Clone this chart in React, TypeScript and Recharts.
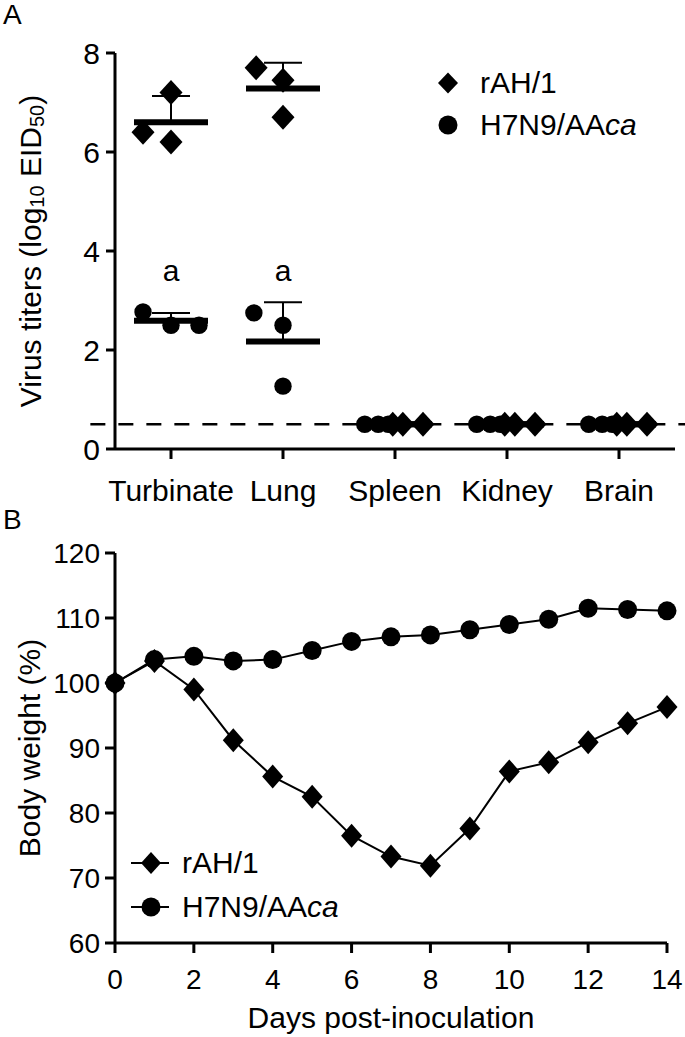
import React from 'react';
import {
  ScatterChart,
  Scatter,
  XAxis,
  YAxis,
  ErrorBar,
  ReferenceLine,
  LineChart,
  Line,
  Legend,
  Label,
} from 'recharts';

const FONT = '"Liberation Sans", Arial, Helvetica, sans-serif';
const INK = '#000000';

// ---------------- Panel A data ----------------
const organs = ['Turbinate', 'Lung', 'Spleen', 'Kidney', 'Brain'];
const seriesNames = ['rAH/1', 'H7N9/AAca'];

const rAH1Titers = [
  [6.4, 7.2, 6.2],
  [7.7, 7.45, 6.7],
  [0.5, 0.5, 0.5],
  [0.5, 0.5, 0.5],
  [0.5, 0.5, 0.5],
];
const rAH1Spread = [
  [-0.25, 0, 0],
  [-0.24, 0, 0],
  [-0.02, 0.07, 0.25],
  [-0.02, 0.07, 0.25],
  [-0.02, 0.07, 0.25],
];
const h7n9Titers = [
  [2.77, 2.5, 2.5],
  [2.75, 2.5, 1.27],
  [0.5, 0.5, 0.5],
  [0.5, 0.5, 0.5],
  [0.5, 0.5, 0.5],
];
const h7n9Spread = [
  [-0.25, 0, 0.25],
  [-0.26, 0, 0],
  [-0.27, -0.15, -0.06],
  [-0.27, -0.15, -0.06],
  [-0.27, -0.15, -0.06],
];
const detectionLimit = 0.5;
const titerTicks = [0, 2, 4, 6, 8];
const significantOrgans = ['Turbinate', 'Lung'];
const significanceMark = 'a';
const significanceLevel = 3.6;

// ---------------- Panel B data ----------------
const days = [0, 1, 2, 3, 4, 5, 6, 7, 8, 9, 10, 11, 12, 13, 14];
const rAH1Weight = [100, 103.4, 99.0, 91.2, 85.6, 82.5, 76.5, 73.3, 71.9, 77.6, 86.4, 87.8, 90.9, 93.8, 96.3];
const h7n9Weight = [100, 103.6, 104.1, 103.4, 103.6, 105.0, 106.4, 107.1, 107.4, 108.2, 109.0, 109.8, 111.5, 111.3, 111.1];
const weightTicks = [60, 70, 80, 90, 100, 110, 120];
const dayTicks = [0, 2, 4, 6, 8, 10, 12, 14];

// ---------------- derived tables ----------------
const toPoints = (values: number[][], spread: number[][]) =>
  values.flatMap((vals, i) => vals.map((v, j) => ({ x: i + 0.5 + spread[i][j], y: v })));

const toMeans = (values: number[][]) =>
  values.map((vals, i) => {
    const n = vals.length;
    const mean = vals.reduce((a, b) => a + b, 0) / n;
    const sd = Math.sqrt(vals.reduce((a, b) => a + (b - mean) * (b - mean), 0) / (n - 1));
    return { x: i + 0.5, y: mean, err: [0, sd] };
  });

const rAH1Points = toPoints(rAH1Titers, rAH1Spread);
const h7n9Points = toPoints(h7n9Titers, h7n9Spread);
const rAH1Means = toMeans(rAH1Titers);
const h7n9Means = toMeans(h7n9Titers);
const organTicks = organs.map((_, i) => i + 0.5);
const annotations = significantOrgans.map((o) => ({
  x: organs.indexOf(o) + 0.5,
  y: significanceLevel,
  t: significanceMark,
}));

const weightData = days.map((d, i) => ({ day: d, rah: rAH1Weight[i], h7: h7n9Weight[i] }));

// ---------------- shapes ----------------
const diamondPts = (cx: number, cy: number, w: number, h: number) =>
  `${cx},${cy - h} ${cx + w},${cy} ${cx},${cy + h} ${cx - w},${cy}`;

const DiamondA = (p: any) => <polygon points={diamondPts(p.cx, p.cy, 11.5, 12.5)} fill={INK} />;
const CircleA = (p: any) => <circle cx={p.cx} cy={p.cy} r={8.7} fill={INK} />;
const MeanBar = (p: any) => (
  <line x1={p.cx - 37} x2={p.cx + 37} y1={p.cy} y2={p.cy} stroke={INK} strokeWidth={6} />
);
const Annotation = (p: any) => (
  <text
    x={p.cx}
    y={p.cy}
    textAnchor="middle"
    dominantBaseline="central"
    fontSize={30}
    fontFamily={FONT}
    fill={INK}
  >
    {p.payload.t}
  </text>
);

const markerFor: Record<string, 'diamond' | 'circle'> = {
  'rAH/1': 'diamond',
  'H7N9/AAca': 'circle',
};

const SeriesName = ({ name }: { name: string }) =>
  name.endsWith('ca') ? (
    <>
      {name.slice(0, -2)}
      <i>ca</i>
    </>
  ) : (
    <>{name}</>
  );

const LegendA = () => (
  <div style={{ fontFamily: FONT, fontSize: 30, color: INK }}>
    {seriesNames.map((n) => (
      <div
        key={n}
        style={{ display: 'flex', alignItems: 'center', height: 42, lineHeight: '42px', whiteSpace: 'nowrap' }}
      >
        <svg width={20} height={42} style={{ marginRight: 22, flex: 'none' }}>
          {markerFor[n] === 'diamond' ? (
            <polygon points={diamondPts(10, 21, 10, 10.5)} fill={INK} />
          ) : (
            <circle cx={10} cy={21} r={9.5} fill={INK} />
          )}
        </svg>
        <span>
          <SeriesName name={n} />
        </span>
      </div>
    ))}
  </div>
);

const LegendB = () => (
  <div style={{ fontFamily: FONT, fontSize: 30, color: INK }}>
    {seriesNames.map((n) => (
      <div
        key={n}
        style={{ display: 'flex', alignItems: 'center', height: 44, lineHeight: '44px', whiteSpace: 'nowrap' }}
      >
        <svg width={38} height={44} style={{ marginRight: 13, flex: 'none' }}>
          <line x1={0} x2={38} y1={22} y2={22} stroke={INK} strokeWidth={2} />
          {markerFor[n] === 'diamond' ? (
            <polygon points={diamondPts(20, 22, 10, 11)} fill={INK} />
          ) : (
            <circle cx={20} cy={22} r={9.5} fill={INK} />
          )}
        </svg>
        <span>
          <SeriesName name={n} />
        </span>
      </div>
    ))}
  </div>
);

const YLabelA = (props: any) => {
  const vb = props.viewBox || { y: 53, height: 396 };
  const cx = 30;
  const cy = vb.y + vb.height / 2;
  return (
    <text
      x={cx}
      y={cy}
      transform={`rotate(-90, ${cx}, ${cy})`}
      textAnchor="middle"
      dominantBaseline="central"
      fontSize={30}
      fontFamily={FONT}
      fill={INK}
    >
      Virus titers (log
      <tspan fontSize={20} dy={7}>
        10
      </tspan>
      <tspan dy={-7}> EID</tspan>
      <tspan fontSize={20} dy={7}>
        50
      </tspan>
      <tspan dy={-7}>)</tspan>
    </text>
  );
};

const YLabelB = (props: any) => {
  const vb = props.viewBox || { y: 33, height: 390 };
  const cx = 29;
  const cy = vb.y + vb.height / 2;
  return (
    <text
      x={cx}
      y={cy}
      transform={`rotate(-90, ${cx}, ${cy})`}
      textAnchor="middle"
      dominantBaseline="central"
      fontSize={30}
      fontFamily={FONT}
      fill={INK}
    >
      Body weight (%)
    </text>
  );
};

const XLabelB = (props: any) => {
  const vb = props.viewBox || { x: 115, y: 423, width: 552 };
  return (
    <text
      x={vb.x + vb.width / 2}
      y={vb.y + 85}
      textAnchor="middle"
      fontSize={30}
      fontFamily={FONT}
      fill={INK}
    >
      Days post-inoculation
    </text>
  );
};

const axisLine = { stroke: INK, strokeWidth: 3 };
const tickLine = { stroke: INK, strokeWidth: 3 };

const PanelA = () => (
  <ScatterChart width={685} height={520} margin={{ top: 53, right: 10, bottom: 0, left: 0 }}>
    <XAxis
      type="number"
      dataKey="x"
      domain={[0, organs.length]}
      ticks={organTicks}
      interval={0}
      tickFormatter={(v: number) => organs[Math.round(v - 0.5)]}
      height={71}
      tickSize={10}
      tickMargin={21}
      axisLine={axisLine}
      tickLine={tickLine}
      tick={{ fill: INK, fontSize: 30, fontFamily: FONT }}
    />
    <YAxis
      type="number"
      dataKey="y"
      domain={[0, 8]}
      ticks={titerTicks}
      interval={0}
      width={115}
      tickSize={9}
      tickMargin={6}
      axisLine={axisLine}
      tickLine={tickLine}
      tick={{ fill: INK, fontSize: 30, fontFamily: FONT }}
    >
      <Label content={YLabelA} />
    </YAxis>
    <ReferenceLine
      segment={[
        { x: -0.22, y: detectionLimit },
        { x: 5.1, y: detectionLimit },
      ]}
      ifOverflow="visible"
      stroke={INK}
      strokeWidth={2.5}
      strokeDasharray="15 13"
    />
    <Scatter name="rAH/1 mean" data={rAH1Means} shape={MeanBar} legendType="none" isAnimationActive={false}>
      <ErrorBar dataKey="err" direction="y" width={19} strokeWidth={2} stroke={INK} />
    </Scatter>
    <Scatter name="H7N9/AAca mean" data={h7n9Means} shape={MeanBar} legendType="none" isAnimationActive={false}>
      <ErrorBar dataKey="err" direction="y" width={19} strokeWidth={2} stroke={INK} />
    </Scatter>
    <Scatter name="H7N9/AAca" data={h7n9Points} shape={CircleA} isAnimationActive={false} />
    <Scatter name="rAH/1" data={rAH1Points} shape={DiamondA} isAnimationActive={false} />
    <Scatter name="annotation" data={annotations} shape={Annotation} legendType="none" isAnimationActive={false} />
    <Legend
      layout="vertical"
      align="center"
      verticalAlign="middle"
      wrapperStyle={{ left: 438, top: 62, width: 240 }}
      content={LegendA}
    />
  </ScatterChart>
);

const WeightDot = (kind: 'diamond' | 'circle') => (p: any) => {
  if (p.cx == null || p.cy == null) return <g key={`${kind}-${p.index}`} />;
  return kind === 'diamond' ? (
    <polygon key={`${kind}-${p.index}`} points={diamondPts(p.cx, p.cy, 10.5, 12)} fill={INK} />
  ) : (
    <circle key={`${kind}-${p.index}`} cx={p.cx} cy={p.cy} r={9.5} fill={INK} />
  );
};

const PanelB = () => (
  <LineChart width={685} height={517} data={weightData} margin={{ top: 33, right: 18, bottom: 0, left: 0 }}>
    <XAxis
      type="number"
      dataKey="day"
      domain={[0, 14]}
      ticks={dayTicks}
      interval={0}
      height={94}
      tickSize={10}
      tickMargin={16}
      axisLine={axisLine}
      tickLine={tickLine}
      tick={{ fill: INK, fontSize: 28, fontFamily: FONT }}
    >
      <Label content={XLabelB} />
    </XAxis>
    <YAxis
      type="number"
      domain={[60, 120]}
      ticks={weightTicks}
      interval={0}
      width={115}
      tickSize={10}
      tickMargin={5}
      axisLine={axisLine}
      tickLine={tickLine}
      tick={{ fill: INK, fontSize: 28, fontFamily: FONT }}
    >
      <Label content={YLabelB} />
    </YAxis>
    <Line
      name="H7N9/AAca"
      dataKey="h7"
      stroke={INK}
      strokeWidth={2}
      dot={WeightDot('circle')}
      activeDot={false}
      isAnimationActive={false}
    />
    <Line
      name="rAH/1"
      dataKey="rah"
      stroke={INK}
      strokeWidth={2}
      dot={WeightDot('diamond')}
      activeDot={false}
      isAnimationActive={false}
    />
    <Legend
      layout="vertical"
      align="center"
      verticalAlign="middle"
      wrapperStyle={{ left: 131, top: 321, width: 260 }}
      content={LegendB}
    />
  </LineChart>
);

export default function App() {
  return (
    <div
      style={{
        position: 'absolute',
        left: 0,
        top: 0,
        width: 685,
        height: 1037,
        background: '#ffffff',
        fontFamily: FONT,
        color: INK,
      }}
    >
      <div style={{ position: 'absolute', left: 0, top: 0 }}>
        <PanelA />
      </div>
      <div style={{ position: 'absolute', left: 0, top: 520 }}>
        <PanelB />
      </div>
      <div style={{ position: 'absolute', left: 3, top: 1, fontSize: 28, lineHeight: 1 }}>A</div>
      <div style={{ position: 'absolute', left: 3, top: 506, fontSize: 28, lineHeight: 1 }}>B</div>
    </div>
  );
}
